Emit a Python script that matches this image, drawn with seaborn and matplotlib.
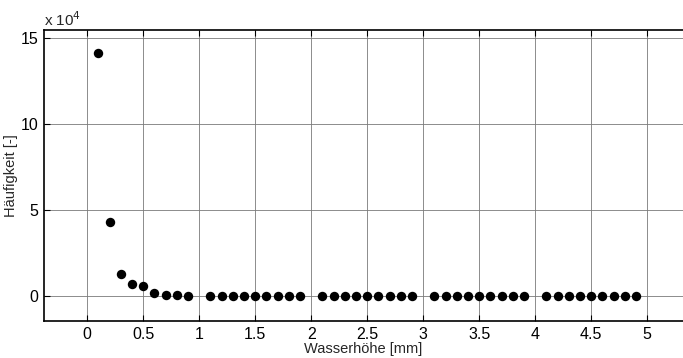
import numpy as np
import pandas as pd
import matplotlib
matplotlib.use("Agg")
import matplotlib.pyplot as plt
import seaborn as sns

# water height classes [mm] (1.0, 2.0, 3.0, 4.0 missing in the source)
heights = [0.1, 0.2, 0.3, 0.4, 0.5, 0.6, 0.7, 0.8, 0.9,
           1.1, 1.2, 1.3, 1.4, 1.5, 1.6, 1.7, 1.8, 1.9,
           2.1, 2.2, 2.3, 2.4, 2.5, 2.6, 2.7, 2.8, 2.9,
           3.1, 3.2, 3.3, 3.4, 3.5, 3.6, 3.7, 3.8, 3.9,
           4.1, 4.2, 4.3, 4.4, 4.5, 4.6, 4.7, 4.8, 4.9]
counts = [141300, 43000, 13000, 7000, 5800, 1900, 700, 400, 200,
          100, 80, 60, 50, 40, 30, 30, 20, 20,
          20, 20, 10, 10, 10, 10, 10, 10, 10,
          10, 10, 10, 10, 10, 10, 10, 10, 10,
          10, 10, 10, 10, 10, 10, 10, 10, 10]
x_ticks = [0, 0.5, 1, 1.5, 2, 2.5, 3, 3.5, 4, 4.5, 5]
x_labels = ["0", "0.5", "1", "1.5", "2", "2.5", "3", "3.5", "4", "4.5", "5"]
y_ticks = [0, 50000, 100000, 150000]
y_labels = ["0", "5", "10", "15"]

df = pd.DataFrame({"h": heights, "n": counts})

sns.set_style("white")
plt.rcParams["font.family"] = ["Liberation Sans", "DejaVu Sans"]

fig = plt.figure(figsize=(6.83, 3.58), dpi=100)
ax = fig.add_axes([0.0644, 0.1034, 0.9356, 0.8126])

sns.scatterplot(data=df, x="h", y="n", ax=ax, color="black", s=46,
                edgecolor="black", linewidth=0, zorder=3)

ax.set_xlim(-0.385, 5.32)
ax.set_ylim(-14500, 154700)
ax.set_xticks(x_ticks)
ax.set_xticklabels(x_labels)
ax.set_yticks(y_ticks)
ax.set_yticklabels(y_labels)
ax.grid(True, color="#7a7a7a", linewidth=0.6)
ax.set_axisbelow(True)

ax.tick_params(axis="both", direction="in", length=4, width=0.8,
               labelsize=11.5, colors="black", pad=4)
ax.tick_params(axis="x", top=True, bottom=True)
ax.tick_params(axis="y", left=True, right=False)

for side in ["left", "bottom", "top"]:
    ax.spines[side].set_color("black")
    ax.spines[side].set_linewidth(1.2)
ax.spines["right"].set_visible(False)

ax.set_xlabel("Wasserhöhe [mm]", fontsize=10.5, labelpad=0)
ax.set_ylabel("Häufigkeit [-]", fontsize=10.5, labelpad=2)
ax.text(0.0, 1.005, r"x 10$^{4}$", transform=ax.transAxes, fontsize=11,
        ha="left", va="bottom")

fig.savefig("out.png", dpi=100)
